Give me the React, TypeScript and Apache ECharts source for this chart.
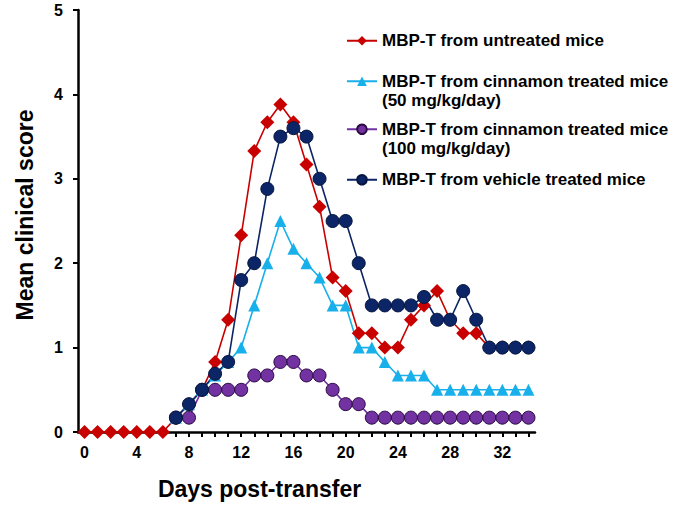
import React, { useEffect, useRef } from "react";
import * as echarts from "echarts";

const days = [0,1,2,3,4,5,6,7,8,9,10,11,12,13,14,15,16,17,18,19,20,21,22,23,24,25,26,27,28,29,30,31,32,33,34];
const untreated = [0,0,0,0,0,0,0,0.17,0.33,0.5,0.83,1.33,2.33,3.33,3.67,3.88,3.67,3.17,2.67,1.83,1.67,1.17,1.17,1.0,1.0,1.33,1.5,1.67,1.33,1.17,1.17,1.0,1.0,1.0,1.0];
const cin50 = [null,null,null,null,null,null,null,0.17,0.33,0.5,0.67,0.83,1.0,1.5,2.0,2.5,2.17,2.0,1.83,1.5,1.5,1.0,1.0,0.83,0.67,0.67,0.67,0.5,0.5,0.5,0.5,0.5,0.5,0.5,0.5];
const cin100 = [null,null,null,null,null,null,null,0.17,0.17,0.5,0.5,0.5,0.5,0.67,0.67,0.83,0.83,0.67,0.67,0.5,0.33,0.33,0.17,0.17,0.17,0.17,0.17,0.17,0.17,0.17,0.17,0.17,0.17,0.17,0.17];
const vehicle = [null,null,null,null,null,null,null,0.17,0.33,0.5,0.69,0.83,1.8,2.0,2.88,3.5,3.6,3.5,3.0,2.5,2.5,2.0,1.5,1.5,1.5,1.5,1.6,1.33,1.33,1.67,1.33,1.0,1.0,1.0,1.0];
const xTickValues = days;
const xLabelValues = [0,4,8,12,16,20,24,28,32];
const seriesNames = [
  "MBP-T from untreated mice",
  "MBP-T from cinnamon treated mice\n(50 mg/kg/day)",
  "MBP-T from cinnamon treated mice\n(100 mg/kg/day)",
  "MBP-T from vehicle treated mice",
];

const FONT = "'Liberation Sans', Arial, sans-serif";

function pairs(vals: (number | null)[]) {
  return days.map((d, i) => [d, vals[i]]);
}

export default function App() {
  const ref = useRef<HTMLDivElement>(null);
  useEffect(() => {
    if (!ref.current) return;
    const chart = echarts.init(ref.current, null, { renderer: "svg" });
    const legendBase = (name: string, top: number, twoLine: boolean) => ({
      data: [name],
      left: 346,
      top,
      orient: "vertical",
      itemWidth: 30,
      itemHeight: 12,
      itemGap: 0,
      padding: 0,
      selectedMode: false,
      formatter: (n: string) => (twoLine ? " \n" + n : n),
      textStyle: { fontFamily: FONT, fontWeight: "bold", fontSize: 17, color: "#000", lineHeight: 19.5 },
    });
    const mk = (name: string, vals: (number | null)[], color: string, symbol: string, size: number, border?: string) => ({
      type: "line",
      name,
      data: pairs(vals),
      symbol,
      symbolSize: size,
      connectNulls: false,
      lineStyle: { color, width: 1.6 },
      itemStyle: { color, borderColor: border || color, borderWidth: border ? 1 : 0 },
      emphasis: { disabled: true },
    });
    chart.setOption({
      animation: false,
      backgroundColor: "#fff",
      grid: { left: 78, right: 147, top: 10, bottom: 73, containLabel: false, outerBoundsMode: "none" },
      legend: [
        legendBase(seriesNames[0], 31, false),
        legendBase(seriesNames[1], 52, true),
        legendBase(seriesNames[2], 100, true),
        legendBase(seriesNames[3], 170, false),
      ],
      xAxis: {
        type: "value",
        min: -0.5,
        max: 34.5,
        name: "Days post-transfer",
        nameLocation: "middle",
        nameGap: 45,
        nameTextStyle: { fontFamily: FONT, fontWeight: "bold", fontSize: 23, color: "#000", padding: [0, 94, 0, 0] },
        splitLine: { show: false },
        axisLine: { show: true, onZero: false, lineStyle: { color: "#000", width: 2.5 } },
        axisTick: { show: true, inside: false, length: 5, customValues: xTickValues, lineStyle: { color: "#000", width: 2 } },
        axisLabel: { customValues: xLabelValues, fontFamily: FONT, fontWeight: "bold", fontSize: 16, color: "#000", margin: 12 },
      },
      yAxis: {
        type: "value",
        min: 0,
        max: 5,
        interval: 1,
        name: "Mean clinical score",
        nameLocation: "middle",
        nameGap: 42,
        nameTextStyle: { fontFamily: FONT, fontWeight: "bold", fontSize: 23, color: "#000", padding: [0, 0, 0, 12] },
        splitLine: { show: false },
        axisLine: { show: true, onZero: false, lineStyle: { color: "#000", width: 2.5 } },
        axisTick: { show: true, inside: false, length: 5, lineStyle: { color: "#000", width: 2 } },
        axisLabel: { fontFamily: FONT, fontWeight: "bold", fontSize: 16, color: "#000", margin: 15 },
      },
      series: [
        mk(seriesNames[0], untreated, "#C80000", "diamond", 14),
        mk(seriesNames[1], cin50, "#18B0EA", "triangle", 12),
        mk(seriesNames[2], cin100, "#7232A2", "circle", 13, "#2a0a40"),
        mk(seriesNames[3], vehicle, "#0C2566", "circle", 13, "#06163f"),
      ],
    });
    return () => chart.dispose();
  }, []);
  return <div ref={ref} style={{ position: "fixed", left: 0, top: 0, width: 682, height: 505 }} />;
}
